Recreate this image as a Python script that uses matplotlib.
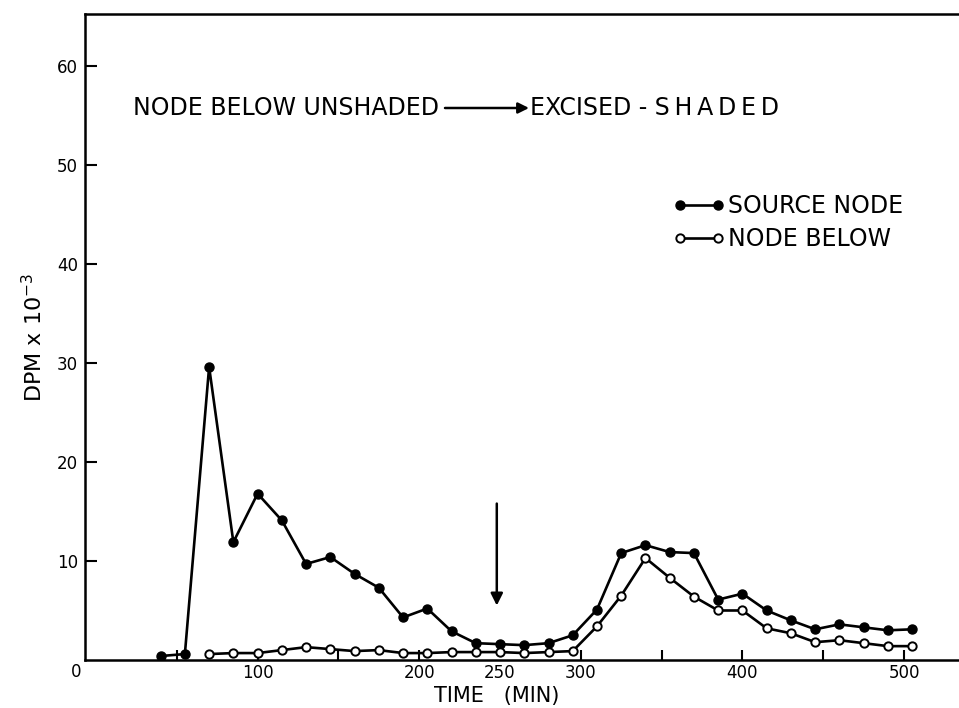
import matplotlib
matplotlib.use('Agg')
import matplotlib.pyplot as plt

# time (min) and DPM x 10^-3
source_time = [40, 55, 70, 85, 100, 115, 130, 145, 160, 175, 190, 205, 220, 235, 250, 265,
               280, 295, 310, 325, 340, 355, 370, 385, 400, 415, 430, 445, 460, 475, 490, 505]
source_dpm = [0.4, 0.6, 29.6, 11.9, 16.8, 14.1, 9.7, 10.4, 8.7, 7.3, 4.3, 5.2, 2.9, 1.7, 1.6, 1.5,
              1.7, 2.5, 5.1, 10.8, 11.6, 10.9, 10.8, 6.1, 6.7, 5.0, 4.0, 3.1, 3.6, 3.3, 3.0, 3.1]

below_time = [70, 85, 100, 115, 130, 145, 160, 175, 190, 205, 220, 235, 250, 265, 280,
              295, 310, 325, 340, 355, 370, 385, 400, 415, 430, 445, 460, 475, 490, 505]
below_dpm = [0.6, 0.7, 0.7, 1.0, 1.3, 1.1, 0.9, 1.0, 0.7, 0.7, 0.8, 0.8, 0.8, 0.7, 0.8,
             0.9, 3.4, 6.5, 10.3, 8.3, 6.4, 5.0, 5.0, 3.2, 2.7, 1.8, 2.0, 1.7, 1.4, 1.4]

x_ticks = [50, 100, 150, 200, 250, 300, 350, 400, 450, 500]
x_labels = ['', '100', '', '200', '250', '300', '', '400', '', '500']
y_ticks = [10, 20, 30, 40, 50, 60]

fig = plt.figure(figsize=(9.59, 7.08), dpi=100)
ax = fig.add_axes([85 / 959, 1 - 660 / 708, 1 - 85 / 959, (660 - 14) / 708])

ax.plot(source_time, source_dpm, color='black', lw=1.9, marker='o', ms=6.5,
        mfc='black', mec='black', label='SOURCE NODE', zorder=3)
ax.plot(below_time, below_dpm, color='black', lw=1.9, marker='o', ms=6,
        mfc='white', mec='black', mew=1.4, label='NODE BELOW', zorder=4)

ax.set_xlim(-6.8, 534)
ax.set_ylim(0, 65.25)

for side in ['left', 'top', 'bottom']:
    ax.spines[side].set_linewidth(1.8)
ax.spines['right'].set_visible(False)

ax.set_xticks(x_ticks)
ax.set_xticklabels(x_labels)
ax.set_yticks(y_ticks)
ax.tick_params(axis='x', direction='in', length=7, width=1.5, pad=3, labelsize=12)
ax.tick_params(axis='y', direction='in', length=8.5, width=1.5, pad=5, labelsize=12)
ax.xaxis.get_major_ticks()[4].tick1line.set_visible(False)
ax.text(-9, -1.2, '0', ha='right', va='center', fontsize=12, transform=ax.transData,
        clip_on=False)

# x label placed by hand under the 250 mark
fig.text(497 / 959, 1 - 702 / 708, 'TIME   (MIN)', fontsize=15, ha='center', va='baseline')
ax.set_ylabel('DPM x 10$^{-3}$', fontsize=16, labelpad=8)

# arrow marking time of excision
ax.annotate('', xy=(248, 5.5), xytext=(248, 15.8),
            arrowprops=dict(arrowstyle='-|>', color='black', lw=1.8,
                            mutation_scale=18, shrinkA=0, shrinkB=0))

fig.text(133 / 959, 1 - 108 / 708, 'NODE BELOW UNSHADED', fontsize=17, va='center', ha='left')
fig.text(530 / 959, 1 - 108 / 708, 'EXCISED - S\u2009H\u2009A\u2009D\u2009E\u2009D',
         fontsize=17, va='center', ha='left')
ax.annotate('', xy=(529 / 959, 1 - 108 / 708), xytext=(445 / 959, 1 - 108 / 708),
            xycoords='figure fraction', textcoords='figure fraction',
            arrowprops=dict(arrowstyle='-|>', color='black', lw=1.8,
                            mutation_scale=16, shrinkA=0, shrinkB=0))

ax.legend(loc='upper left', bbox_to_anchor=(661 / 959, 1 - 182 / 708),
          bbox_transform=fig.transFigure, frameon=False, fontsize=17, numpoints=2,
          handlelength=2.2, handletextpad=0.15, labelspacing=0.4, borderpad=0)

plt.savefig('out.png', dpi=100)
plt.close()
